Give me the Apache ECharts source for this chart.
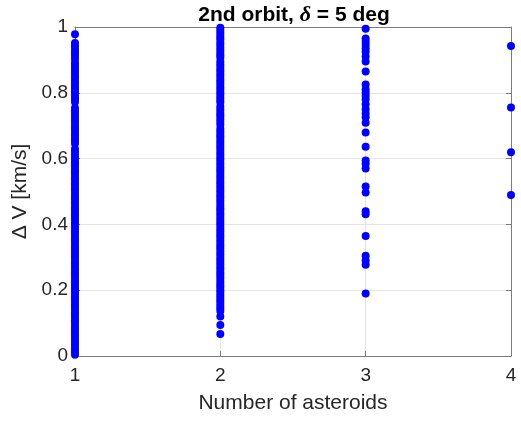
<!DOCTYPE html>
<html>
<head>
<meta charset="utf-8">
<script src="https://cdn.jsdelivr.net/npm/echarts@6/dist/echarts.min.js"></script>
<style>
  html, body { margin: 0; padding: 0; background: #ffffff; }
  #chart { width: 521px; height: 422px; }
</style>
</head>
<body>
<div id="chart"></div>
<script>
// Delta-V of feasible transfers, grouped by number of asteroids visited
const xTicks = [1, 2, 3, 4];
const yTicks = [0, 0.2, 0.4, 0.6, 0.8, 1];

const dv1 = [0.978, 0.951, 0.944, 0.937, 0.928, 0.921, 0.913, 0.904, 0.893, 0.885,
  0.877, 0.868, 0.861, 0.852, 0.846, 0.837, 0.829, 0.82, 0.813, 0.804, 0.797, 0.788,
  0.781, 0.772, 0.754, 0.745, 0.736, 0.729, 0.719, 0.712, 0.703, 0.694, 0.687, 0.677,
  0.671, 0.662, 0.655, 0.646, 0.629, 0.621, 0.612, 0.606, 0.597, 0.588, 0.582, 0.573,
  0.564, 0.558, 0.549, 0.54, 0.534, 0.525, 0.518, 0.509, 0.503, 0.494, 0.485, 0.479,
  0.47, 0.463, 0.453, 0.447, 0.438, 0.429, 0.423, 0.414, 0.405, 0.399, 0.39, 0.381,
  0.375, 0.366, 0.357, 0.351, 0.342, 0.333, 0.327, 0.318, 0.309, 0.303, 0.294, 0.285,
  0.279, 0.27, 0.263, 0.253, 0.246, 0.238, 0.229, 0.223, 0.214, 0.205, 0.198, 0.19,
  0.181, 0.175, 0.166, 0.157, 0.151, 0.142, 0.133, 0.127, 0.118, 0.109, 0.103, 0.094,
  0.085, 0.079, 0.07, 0.063, 0.054, 0.046, 0.038, 0.031, 0.022, 0.016, 0.01, 0.004];

const dv2 = [0.998, 0.991, 0.983, 0.976, 0.968, 0.961, 0.952, 0.945, 0.937, 0.929,
  0.921, 0.914, 0.907, 0.895, 0.887, 0.879, 0.871, 0.864, 0.856, 0.848, 0.84, 0.833,
  0.825, 0.817, 0.809, 0.801, 0.794, 0.786, 0.778, 0.771, 0.758, 0.75, 0.742, 0.734,
  0.727, 0.719, 0.711, 0.703, 0.691, 0.683, 0.675, 0.668, 0.66, 0.652, 0.644, 0.637,
  0.629, 0.621, 0.613, 0.605, 0.598, 0.59, 0.582, 0.574, 0.566, 0.559, 0.551, 0.543,
  0.535, 0.527, 0.52, 0.512, 0.504, 0.496, 0.488, 0.481, 0.473, 0.465, 0.457, 0.449,
  0.442, 0.434, 0.426, 0.418, 0.41, 0.403, 0.395, 0.387, 0.379, 0.371, 0.364, 0.356,
  0.348, 0.34, 0.332, 0.325, 0.317, 0.309, 0.301, 0.293, 0.286, 0.278, 0.27, 0.262,
  0.254, 0.247, 0.239, 0.231, 0.223, 0.215, 0.208, 0.2, 0.192, 0.184, 0.176, 0.169,
  0.161, 0.153, 0.145, 0.137, 0.12, 0.094, 0.067];

const dv3 = [0.995, 0.965, 0.955, 0.945, 0.935, 0.925, 0.91, 0.895, 0.865, 0.825,
  0.81, 0.8, 0.79, 0.78, 0.765, 0.75, 0.737, 0.726, 0.709, 0.679, 0.636, 0.594,
  0.584, 0.57, 0.515, 0.497, 0.44, 0.431, 0.365, 0.305, 0.29, 0.277, 0.19];

const dv4 = [0.942, 0.755, 0.619, 0.489];

const groups = [[1, dv1], [2, dv2], [3, dv3], [4, dv4]];
const points = [];
groups.forEach(([n, vals]) => vals.forEach(v => points.push([n, v])));

const FONT = 'Liberation Sans, Arial, sans-serif';
const AXIS = '#7b7b7b';
const TEXT = '#262626';
const GRID = '#e3e3e3';

const chart = echarts.init(document.getElementById('chart'), null, { renderer: 'canvas' });

chart.setOption({
  animation: false,
  backgroundColor: '#ffffff',
  title: {
    text: '{b|2nd orbit, }{i|δ}{b| = 5 deg}',
    left: 289,
    textAlign: 'center',
    top: -1,
    textStyle: {
      rich: {
        b: { fontFamily: FONT, fontSize: 21, fontWeight: 'bold', color: '#000000' },
        i: { fontFamily: 'Liberation Serif, Times New Roman, serif', fontSize: 22,
             fontStyle: 'italic', color: '#000000' }
      }
    }
  },
  grid: { left: 75, right: 10, top: 27, bottom: 66, show: false },
  xAxis: [{
    type: 'value', min: 1, max: 4, interval: 1,
    name: 'Number of asteroids', nameLocation: 'middle', nameGap: 37,
    nameTextStyle: { fontFamily: FONT, fontSize: 21, color: TEXT },
    axisLine: { show: true, onZero: false, lineStyle: { color: AXIS, width: 1 } },
    axisTick: { show: true, inside: true, length: 5, lineStyle: { color: AXIS } },
    axisLabel: { fontFamily: FONT, fontSize: 19, color: TEXT, margin: 10 },
    splitLine: { show: true, lineStyle: { color: GRID, width: 1 } }
  }, {
    type: 'value', min: 1, max: 4, interval: 1, position: 'top',
    axisLine: { show: true, onZero: false, lineStyle: { color: AXIS, width: 1 } },
    axisTick: { show: true, inside: true, length: 5, lineStyle: { color: AXIS } },
    axisLabel: { show: false }, splitLine: { show: false }
  }],
  yAxis: [{
    type: 'value', min: 0, max: 1, interval: 0.2,
    name: 'Δ V [km/s]', nameLocation: 'middle', nameGap: 39, nameRotate: 90,
    nameTextStyle: { fontFamily: FONT, fontSize: 21, color: TEXT },
    axisLine: { show: true, onZero: false, lineStyle: { color: AXIS, width: 1 } },
    axisTick: { show: true, inside: true, length: 5, lineStyle: { color: AXIS } },
    axisLabel: { fontFamily: FONT, fontSize: 19, color: TEXT, margin: 7,
                 formatter: v => String(+v.toFixed(1)) },
    splitLine: { show: true, lineStyle: { color: GRID, width: 1 } }
  }, {
    type: 'value', min: 0, max: 1, interval: 0.2, position: 'right',
    axisLine: { show: true, onZero: false, lineStyle: { color: AXIS, width: 1 } },
    axisTick: { show: true, inside: true, length: 5, lineStyle: { color: AXIS } },
    axisLabel: { show: false }, splitLine: { show: false }
  }],
  series: [{
    type: 'scatter',
    xAxisIndex: 0, yAxisIndex: 0,
    data: points,
    symbol: 'circle',
    symbolSize: 8,
    itemStyle: { color: '#0000ff', opacity: 1 },
    clip: false,
    silent: true
  }]
});
</script>
</body>
</html>
